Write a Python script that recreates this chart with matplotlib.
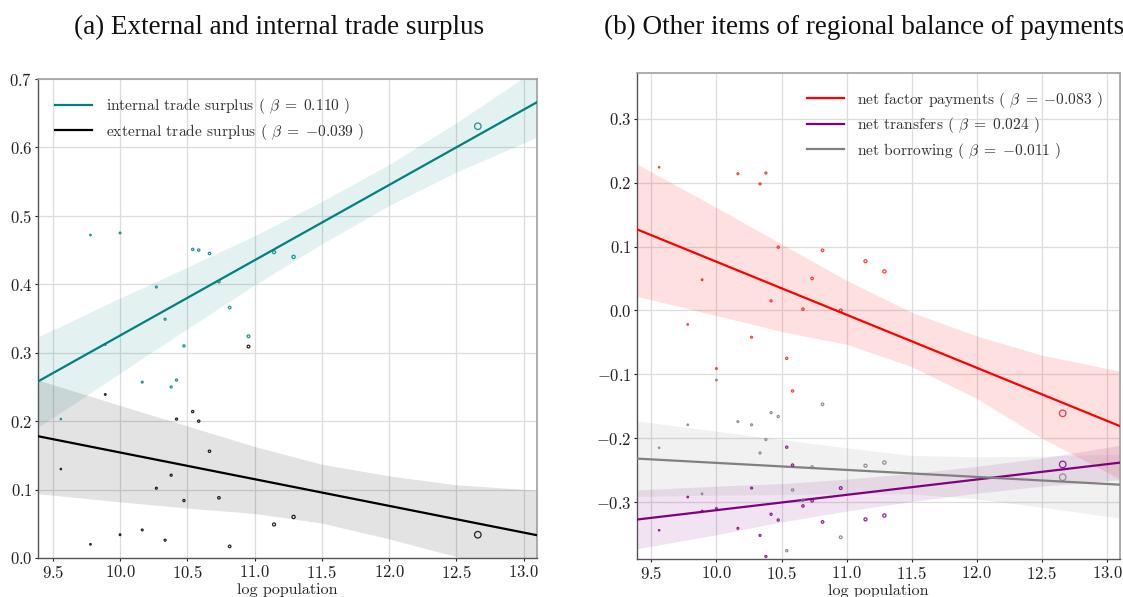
import numpy as np
import matplotlib
matplotlib.use("Agg")
import matplotlib.pyplot as plt

plt.rcParams['font.family'] = 'serif'
plt.rcParams['font.serif'] = ['cmr10']
plt.rcParams['mathtext.fontset'] = 'cm'
plt.rcParams['axes.formatter.use_mathtext'] = True

# ---------------- data ----------------
log_pop = [9.56, 9.78, 9.89, 10.0, 10.165, 10.27, 10.335, 10.38, 10.42, 10.475,
           10.54, 10.585, 10.665, 10.735, 10.815, 10.955, 11.145, 11.29, 12.66]

internal_trade = [0.203, 0.472, 0.312, 0.475, 0.257, 0.396, 0.349, 0.250, 0.260, 0.310,
                  0.451, 0.450, 0.445, 0.404, 0.366, 0.324, 0.447, 0.440, 0.631]
external_trade = [0.130, 0.020, 0.239, 0.034, 0.041, 0.102, 0.026, 0.121, 0.203, 0.084,
                  0.214, 0.200, 0.156, 0.088, 0.017, 0.309, 0.049, 0.060, 0.034]

net_factor = [0.224, -0.022, 0.048, -0.091, 0.214, -0.042, 0.198, 0.215, 0.015, 0.099,
              -0.075, -0.126, 0.002, 0.050, 0.094, 0.000, 0.077, 0.061, -0.161]
net_transfers = [-0.344, -0.292, -0.314, -0.310, -0.341, -0.278, -0.352, -0.385, -0.319, -0.328,
                 -0.214, -0.242, -0.306, -0.298, -0.331, -0.278, -0.327, -0.321, -0.241]
net_borrowing = [-0.215, -0.179, -0.287, -0.109, -0.174, -0.179, -0.223, -0.202, -0.160, -0.166,
                 -0.376, -0.281, -0.297, -0.245, -0.147, -0.355, -0.243, -0.238, -0.261]

# regression fits: (intercept, beta)
fit_internal = (-0.7749, 0.110)
fit_external = (0.5442, -0.039)
fit_factor = (0.9062, -0.083)
fit_transfers = (-0.5526, 0.024)
fit_borrowing = (-0.1286, -0.011)

# confidence bands read at these x positions
band_x = [9.39, 10.0, 10.5, 11.0, 11.5, 12.0, 12.5, 13.1]
band_internal_hi = [0.323, 0.380, 0.425, 0.471, 0.521, 0.575, 0.636, 0.715]
band_internal_lo = [0.191, 0.270, 0.335, 0.399, 0.459, 0.515, 0.564, 0.615]
band_external_hi = [0.260, 0.223, 0.193, 0.163, 0.137, 0.120, 0.107, 0.099]
band_external_lo = [0.094, 0.082, 0.073, 0.065, 0.051, 0.028, 0.002, -0.033]
band_factor_hi = [0.229, 0.161, 0.104, 0.047, -0.003, -0.040, -0.070, -0.095]
band_factor_lo = [0.022, -0.008, -0.033, -0.053, -0.088, -0.138, -0.200, -0.264]
band_transfers_hi = [-0.281, -0.275, -0.271, -0.264, -0.255, -0.244, -0.231, -0.211]
band_transfers_lo = [-0.373, -0.351, -0.331, -0.314, -0.299, -0.286, -0.275, -0.265]
band_borrowing_hi = [-0.173, -0.189, -0.202, -0.215, -0.227, -0.229, -0.228, -0.225]
band_borrowing_lo = [-0.291, -0.289, -0.288, -0.287, -0.287, -0.295, -0.308, -0.325]

title_a = "(a) External and internal trade surplus"
title_b = "(b) Other items of regional balance of payments"
xlabel = "log population"

XLIM = (9.39, 13.1)

# ---------------- figure ----------------
fig = plt.figure(figsize=(11.23, 5.97), dpi=100)
axL = fig.add_axes([38/1123, 39/597, 499/1123, 479/597])
axR = fig.add_axes([637/1123, 38/597, 483/1123, 486.3/597])

x = np.array(log_pop)
sizes = 22 * np.exp(x - 12.66)
xx = np.array(XLIM)


def style(ax):
    ax.set_axisbelow(True)
    ax.grid(True, color='#dcdcdc', linewidth=0.9)
    for s in ['left', 'bottom']:
        ax.spines[s].set_color('#555555')
        ax.spines[s].set_linewidth(1.0)
    for s in ['top', 'right']:
        ax.spines[s].set_color('#a0a0a0')
        ax.spines[s].set_linewidth(1.2)
    ax.tick_params(axis='both', labelsize=12, colors='#222222', length=2.5, width=0.8,
                   pad=1.5)
    ax.set_xlim(*XLIM)
    ax.set_xticks([9.5, 10.0, 10.5, 11.0, 11.5, 12.0, 12.5, 13.0])
    ax.set_xlabel(xlabel, fontsize=11.5, color='#222222', labelpad=1.5)


def series(ax, y, fit, hi, lo, color, band_alpha, label, pt_alpha=0.85):
    a, b = fit
    ax.fill_between(band_x, lo, hi, color=color, alpha=band_alpha, linewidth=0, zorder=1)
    ax.plot(xx, a + b * xx, color=color, linewidth=1.6, label=label, zorder=3)
    ax.scatter(x, y, s=sizes, facecolors='none', edgecolors=color, linewidths=0.9,
               alpha=pt_alpha, zorder=4)


LEG = dict(frameon=False, fontsize=11.2, handlelength=2.4, borderaxespad=0.7,
           labelspacing=0.35, handletextpad=0.85)

# left panel
style(axL)
series(axL, internal_trade, fit_internal, band_internal_hi, band_internal_lo,
       '#008080', 0.11, r'internal trade surplus ( $\beta\;=\;0.110$ )')
series(axL, external_trade, fit_external, band_external_hi, band_external_lo,
       '#000000', 0.11, r'external trade surplus ( $\beta\;=\;{-}0.039$ )')
axL.set_ylim(0.0, 0.7)
axL.set_yticks([0.0, 0.1, 0.2, 0.3, 0.4, 0.5, 0.6, 0.7])
legL = axL.legend(loc='upper left', **LEG)
for t in legL.get_texts():
    t.set_color('#333333')

# right panel
style(axR)
series(axR, net_factor, fit_factor, band_factor_hi, band_factor_lo,
       '#ff0000', 0.12, r'net factor payments ( $\beta\;=\;{-}0.083$ )', pt_alpha=0.75)
series(axR, net_transfers, fit_transfers, band_transfers_hi, band_transfers_lo,
       '#800080', 0.11, r'net transfers ( $\beta\;=\;0.024$ )')
series(axR, net_borrowing, fit_borrowing, band_borrowing_hi, band_borrowing_lo,
       '#808080', 0.11, r'net borrowing ( $\beta\;=\;{-}0.011$ )')
axR.set_ylim(-0.389, 0.372)
axR.set_yticks([-0.3, -0.2, -0.1, 0.0, 0.1, 0.2, 0.3])
legR = axR.legend(loc='upper right', **LEG)
for t in legR.get_texts():
    t.set_color('#333333')

fig.text(279.5/1123, 1 - 27/597, title_a, ha='center', va='center',
         fontsize=19.5, family='Liberation Serif', color='#111111')
fig.text(864/1123, 1 - 27/597, title_b, ha='center', va='center',
         fontsize=19.5, family='Liberation Serif', color='#111111')

fig.savefig('out.png', dpi=100)
